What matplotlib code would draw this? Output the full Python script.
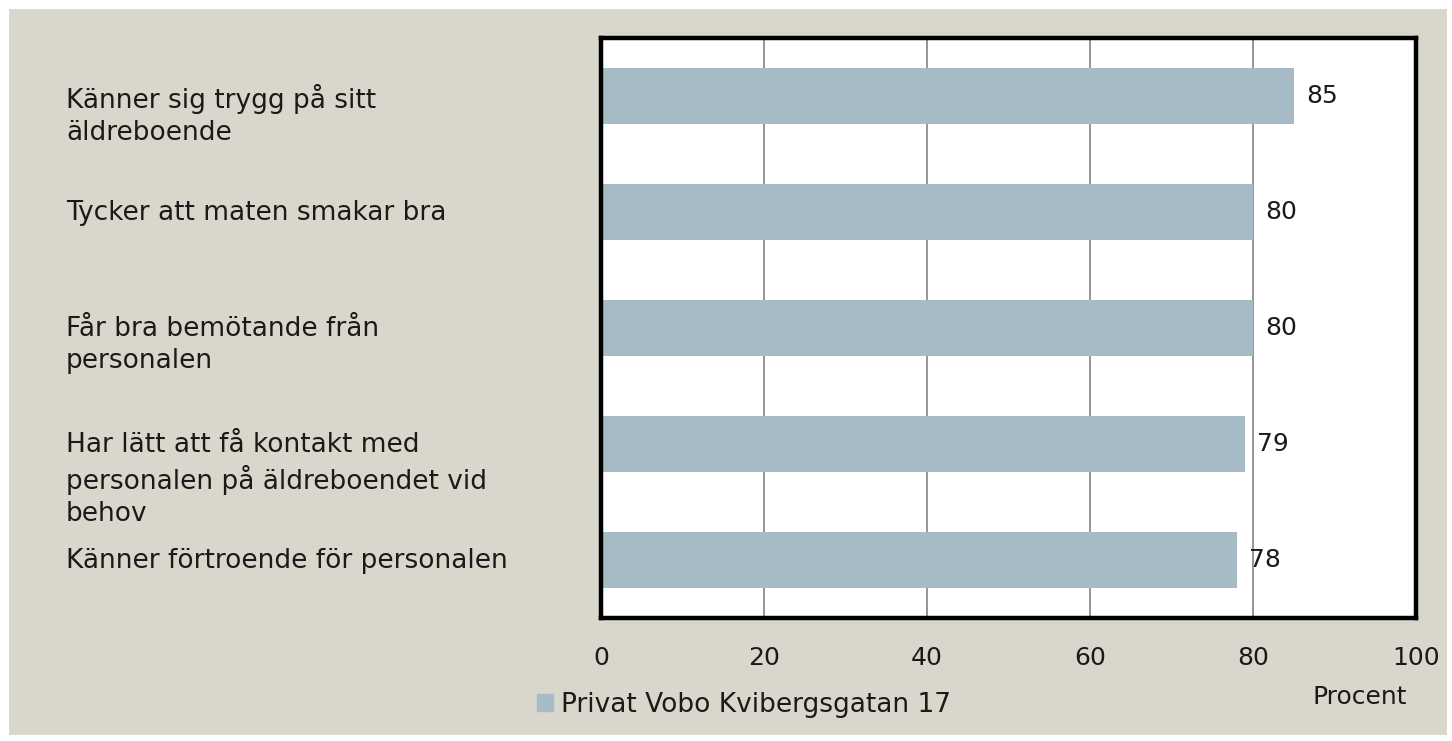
import matplotlib
matplotlib.use("Agg")
import matplotlib.pyplot as plt
import matplotlib.patches as mpatches

# Data
categories = [
    "Känner sig trygg på sitt\näldreboende",
    "Tycker att maten smakar bra",
    "Får bra bemötande från\npersonalen",
    "Har lätt att få kontakt med\npersonalen på äldreboendet vid\nbehov",
    "Känner förtroende för personalen",
]
values = [85, 80, 80, 79, 78]
series_name = "Privat Vobo Kvibergsgatan 17"
xticks = [0, 20, 40, 60, 80, 100]

bg = "#d9d7cb"
bar_color = "#a7bbc6"
txt = "#1a1a1a"
fs = 18
fs_lab = 19
plt.rcParams['font.family'] = ['DejaVu Sans']

fig = plt.figure(figsize=(14.52, 7.41), dpi=100)
fig.patch.set_facecolor("white")
# beige panel inside thin white border
fig.patches.append(mpatches.Rectangle((9 / 1452, 6 / 741), 1438 / 1452, 726 / 741,
                                      transform=fig.transFigure, facecolor=bg,
                                      edgecolor="none", zorder=-10))

ax = fig.add_axes([601 / 1452, 1 - 618 / 741, 815 / 1452, 580 / 741])
ax.set_facecolor("white")

ypos = list(range(len(categories)))
ax.barh(ypos, values, height=0.49, color=bar_color, zorder=2, label=series_name)
ax.set_xlim(0, 100)
ax.set_ylim(len(categories) - 0.5, -0.5)
ax.set_xticks(xticks)
ax.set_xticklabels([str(t) for t in xticks], fontsize=fs, color=txt)
ax.tick_params(axis="x", length=0, pad=20)
ax.set_yticks([])
ax.xaxis.grid(True, color="#8c8c8c", linewidth=1.3, zorder=1)
for s in ax.spines.values():
    s.set_linewidth(3.2)
    s.set_color("black")

for y, v in zip(ypos, values):
    ax.annotate(str(v), (v, y), xytext=(9, 0), textcoords="offset points",
                va="center", ha="left", fontsize=fs, color=txt)

# category labels, left aligned in the beige margin
for y, lab in zip(ypos, categories):
    ax.annotate(lab, xy=(66 / 1452, y), xycoords=("figure fraction", "data"),
                xytext=(0, 9), textcoords="offset points",
                va="top", ha="left", fontsize=fs_lab, color=txt,
                linespacing=1.3)

fig.text(1360 / 1452, 1 - 697 / 741, "Procent", ha="center", va="center",
         fontsize=fs, color=txt)

handle = mpatches.Patch(color=bar_color)
fig.legend([handle], [series_name], loc="center", bbox_to_anchor=(744 / 1452, 1 - 705 / 741),
           frameon=False, fontsize=fs_lab, handlelength=0.6, handleheight=0.6,
           handletextpad=0.3, labelcolor=txt)

fig.savefig("out.png", dpi=100, facecolor=fig.get_facecolor())
